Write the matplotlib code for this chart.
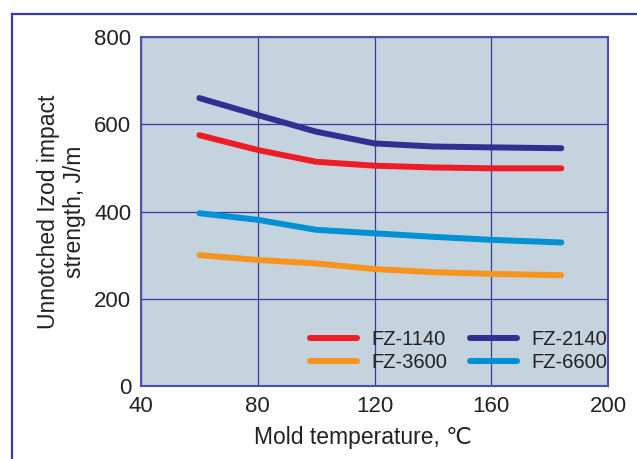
import matplotlib
matplotlib.use("Agg")
import matplotlib.pyplot as plt
from matplotlib.lines import Line2D

plt.rcParams['font.family'] = ['Liberation Sans', 'DejaVu Sans']

temps = [60, 80, 100, 120, 140, 160, 184]
fz1140 = [575, 541, 514, 505, 501, 499, 499]
fz2140 = [660, 621, 583, 556, 549, 547, 545]
fz3600 = [300, 289, 281, 268, 261, 257, 254]
fz6600 = [396, 381, 358, 350, 342, 335, 329]

series = [
    ("FZ-1140", fz1140, "#EE1C25"),
    ("FZ-2140", fz2140, "#2E3192"),
    ("FZ-3600", fz3600, "#F7941D"),
    ("FZ-6600", fz6600, "#0091D5"),
]

xticks = [40, 80, 120, 160, 200]
yticks = [0, 200, 400, 600, 800]

fig = plt.figure(figsize=(6.37, 4.59), dpi=100)
ax = fig.add_axes([141/637, (459-386)/459, 467/637, 349/459])
ax.set_facecolor("#C5D3DE")

handles = {}
for name, vals, col in series:
    h, = ax.plot(temps, vals, color=col, lw=4.3, solid_capstyle='round', label=name)
    handles[name] = h

ax.set_xlim(40, 200)
ax.set_ylim(0, 800)
ax.set_xticks(xticks)
ax.set_yticks(yticks)
ax.tick_params(length=0, labelsize=16, colors="#222222", pad=7)
ax.grid(True, color="#3A3A9A", lw=0.9)
ax.set_axisbelow(True)
for s in ax.spines.values():
    s.set_color("#5050A8")
    s.set_linewidth(1.5)

ax.set_xlabel("Mold temperature, \u2103", fontsize=16.5, color="#222222", labelpad=7)
ax.xaxis.set_label_coords(0.476, -0.115)
ax.set_ylabel("Unnotched Izod impact\nstrength, J/m", fontsize=16.5, color="#222222",
              labelpad=6, linespacing=1.15)

order = ["FZ-1140", "FZ-3600", "FZ-2140", "FZ-6600"]
leg = ax.legend([handles[n] for n in order], order, ncol=2, loc='lower right',
                bbox_to_anchor=(1.02, 0.012), frameon=False,
                fontsize=14.5, handlelength=2.35, handletextpad=0.7, columnspacing=1.15,
                labelspacing=0.2, borderpad=0.0)
for t in leg.get_texts():
    t.set_color("#222222")

fig.add_artist(Line2D([12/637, 1.0], [1-13.5/459, 1-13.5/459], transform=fig.transFigure,
                      color="#3A3A9A", lw=1.6))
fig.add_artist(Line2D([12/637, 12/637], [0, 1-13.5/459], transform=fig.transFigure,
                      color="#3A3A9A", lw=1.6))

fig.savefig("out.png", dpi=100)
